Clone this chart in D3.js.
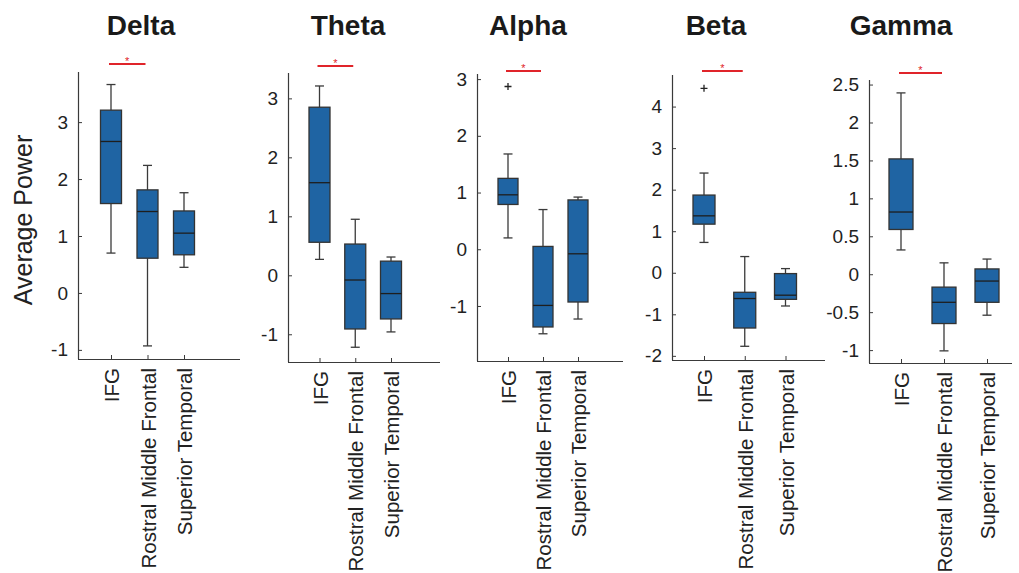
<!DOCTYPE html>
<html>
<head>
<meta charset="utf-8">
<script src="https://cdn.jsdelivr.net/npm/d3@7"></script>
<style>
  html, body { margin: 0; padding: 0; background: #fff; }
  svg { display: block; font-family: "Liberation Sans", Arial, Helvetica, sans-serif; }
</style>
</head>
<body>
<svg id="chart" width="1019" height="573"></svg>
<script>
// Regions compared in every frequency band
const regions = ["IFG", "Rostral Middle Frontal", "Superior Temporal"];
const bands = ["Delta", "Theta", "Alpha", "Beta", "Gamma"];

// Box statistics per band, one entry per region: [lower whisker, Q1, median, Q3, upper whisker]
const deltaStats = [[0.70, 1.57, 2.66, 3.21, 3.66], [-0.93, 0.61, 1.43, 1.81, 2.24], [0.45, 0.67, 1.05, 1.44, 1.76]];
const thetaStats = [[0.27, 0.56, 1.57, 2.85, 3.21], [-1.22, -0.91, -0.08, 0.53, 0.95], [-0.96, -0.74, -0.31, 0.24, 0.31]];
const alphaStats = [[0.20, 0.79, 0.96, 1.25, 1.68], [-1.49, -1.37, -0.99, 0.05, 0.70], [-1.23, -0.93, -0.08, 0.87, 0.92]];
const betaStats  = [[0.73, 1.17, 1.37, 1.87, 2.40], [-1.77, -1.33, -0.62, -0.47, 0.39], [-0.80, -0.64, -0.54, -0.02, 0.10]];
const gammaStats = [[0.32, 0.59, 0.82, 1.52, 2.39], [-1.01, -0.65, -0.37, -0.17, 0.15], [-0.54, -0.37, -0.09, 0.07, 0.20]];

// Outliers: [region index, value]
const deltaOutliers = [];
const thetaOutliers = [];
const alphaOutliers = [[0, 2.87]];
const betaOutliers  = [[0, 4.44]];
const gammaOutliers = [];

// Y axis limits and tick values
const deltaYLim = [-1.16, 3.88], deltaTicks = [-1, 0, 1, 2, 3];
const thetaYLim = [-1.47, 3.43], thetaTicks = [-1, 0, 1, 2, 3];
const alphaYLim = [-1.97, 3.09], alphaTicks = [-1, 0, 1, 2, 3];
const betaYLim  = [-2.10, 4.76], betaTicks  = [-2, -1, 0, 1, 2, 3, 4];
const gammaYLim = [-1.17, 2.56], gammaTicks = [-1, -0.5, 0, 0.5, 1, 1.5, 2, 2.5];

// Significant pair (IFG vs Rostral Middle Frontal) marked in every band
const sigPair = [0, 1];

const stats = [deltaStats, thetaStats, alphaStats, betaStats, gammaStats];
const outliers = [deltaOutliers, thetaOutliers, alphaOutliers, betaOutliers, gammaOutliers];
const yLims = [deltaYLim, thetaYLim, alphaYLim, betaYLim, gammaYLim];
const yTicks = [deltaTicks, thetaTicks, alphaTicks, betaTicks, gammaTicks];

// Panel geometry (pixels)
const layout = [
  { x0: 78,  x1: 240,  top: 72, bottom: 359, first: 111, last: 184,  boxW: 21, titleX: 141, sigY: 64 },
  { x0: 288, x1: 440,  top: 73, bottom: 362, first: 319.5, last: 391, boxW: 21, titleX: 348, sigY: 66 },
  { x0: 477, x1: 623,  top: 74, bottom: 361, first: 508, last: 578,  boxW: 20, titleX: 528, sigY: 71 },
  { x0: 672, x1: 825,  top: 75, bottom: 360, first: 704, last: 785.5, boxW: 22, titleX: 716, sigY: 71 },
  { x0: 869, x1: 1012, top: 80, bottom: 363, first: 901, last: 987,  boxW: 24, titleX: 901, sigY: 73 }
];

const boxFill = "#1f64a3";
const ink = "#3a3a3a";
const textInk = "#222";
const sigRed = "#e0242a";

const svg = d3.select("#chart");
const fmt = d => String(d);

bands.forEach((band, i) => {
  const L = layout[i];
  const g = svg.append("g");

  const y = d3.scaleLinear().domain(yLims[i]).range([L.bottom, L.top]);
  const x = d3.scalePoint().domain(regions).range([L.first, L.last]);

  // Y axis with inward ticks
  const yAxis = d3.axisLeft(y).tickValues(yTicks[i]).tickFormat(fmt).tickSizeInner(-4).tickSizeOuter(0).tickPadding(10);
  const ya = g.append("g").attr("transform", `translate(${L.x0},0)`).call(yAxis);
  ya.select(".domain").attr("stroke", ink).attr("stroke-width", 1.2).attr("d", `M0.5,${L.top}V${L.bottom}`);
  ya.selectAll(".tick line").attr("stroke", ink);
  ya.selectAll(".tick text").attr("fill", textInk).style("font-size", "19px").style("font-family", "Liberation Sans, Arial, sans-serif");

  // X axis with inward ticks and rotated region names
  const xAxis = d3.axisBottom(x).tickSizeInner(-4).tickSizeOuter(0).tickPadding(0);
  const xa = g.append("g").attr("transform", `translate(0,${L.bottom})`).call(xAxis);
  xa.select(".domain").attr("stroke", ink).attr("stroke-width", 1.2).attr("d", `M${L.x0},0.5H${L.x1}`);
  xa.selectAll(".tick line").attr("stroke", ink);
  xa.selectAll(".tick text")
    .attr("fill", textInk)
    .style("font-size", "20.5px")
    .style("font-family", "Liberation Sans, Arial, sans-serif")
    .attr("text-anchor", "end")
    .attr("dy", null)
    .attr("y", 0)
    .attr("dominant-baseline", "central")
    .attr("transform", "translate(0,9) rotate(-90)");

  // Boxes
  stats[i].forEach((s, k) => {
    const cx = x(regions[k]);
    const [lo, q1, med, q3, hi] = s;
    const hw = L.boxW / 2;
    const capW = 4.5;
    const sw = 1.3;
    // whiskers
    g.append("line").attr("x1", cx).attr("x2", cx).attr("y1", y(hi)).attr("y2", y(q3)).attr("stroke", ink).attr("stroke-width", sw);
    g.append("line").attr("x1", cx).attr("x2", cx).attr("y1", y(q1)).attr("y2", y(lo)).attr("stroke", ink).attr("stroke-width", sw);
    g.append("line").attr("x1", cx - capW).attr("x2", cx + capW).attr("y1", y(hi)).attr("y2", y(hi)).attr("stroke", ink).attr("stroke-width", sw);
    g.append("line").attr("x1", cx - capW).attr("x2", cx + capW).attr("y1", y(lo)).attr("y2", y(lo)).attr("stroke", ink).attr("stroke-width", sw);
    // box
    g.append("rect").attr("x", cx - hw).attr("y", y(q3)).attr("width", L.boxW).attr("height", y(q1) - y(q3))
      .attr("fill", boxFill).attr("stroke", "#333").attr("stroke-width", 1.3);
    // median
    g.append("line").attr("x1", cx - hw).attr("x2", cx + hw).attr("y1", y(med)).attr("y2", y(med)).attr("stroke", "#1e1e1e").attr("stroke-width", 1.3);
  });

  // Outlier markers
  outliers[i].forEach(([k, v]) => {
    const cx = x(regions[k]), cy = y(v);
    g.append("path").attr("d", `M${cx - 3.5},${cy}H${cx + 3.5}M${cx},${cy - 3.5}V${cy + 3.5}`).attr("stroke", "#222").attr("stroke-width", 1.3);
  });

  // Significance bar with star
  const sx1 = x(regions[sigPair[0]]) - 2, sx2 = x(regions[sigPair[1]]) - 2;
  g.append("line").attr("x1", sx1).attr("x2", sx2).attr("y1", L.sigY).attr("y2", L.sigY).attr("stroke", sigRed).attr("stroke-width", 2.2);
  g.append("text").attr("x", (sx1 + sx2) / 2).attr("y", L.sigY + 1).attr("text-anchor", "middle")
    .attr("fill", sigRed).style("font-size", "11px").text("*");

  // Title
  g.append("text").attr("x", L.titleX).attr("y", 35).attr("text-anchor", "middle")
    .attr("fill", "#1a1a1a").style("font-size", "28px").style("font-weight", "bold").text(band);
});

// Shared y label
svg.append("text")
  .attr("transform", "translate(23,220) rotate(-90)")
  .attr("text-anchor", "middle")
  .attr("dominant-baseline", "central")
  .attr("fill", "#222")
  .style("font-size", "25px")
  .text("Average Power");
</script>
</body>
</html>
